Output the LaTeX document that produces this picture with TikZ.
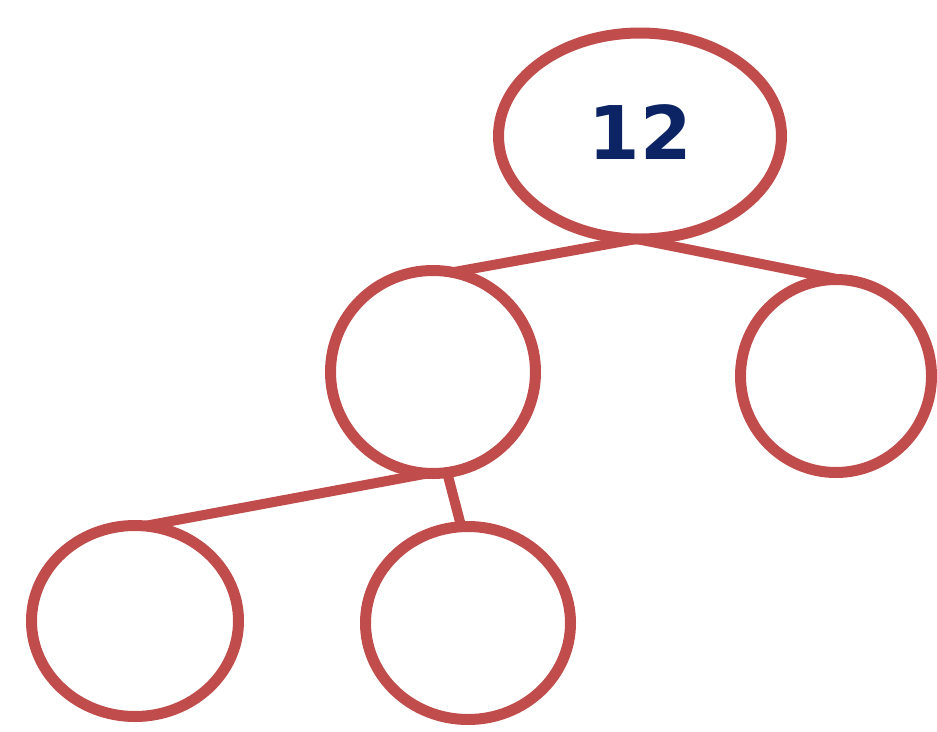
\documentclass[tikz,border=0pt]{standalone}
\usepackage{fontspec}
\newfontfamily\numfont{DejaVu Sans}
\usetikzlibrary{shapes.geometric}
\definecolor{ringred}{RGB}{192,76,76}
\definecolor{navy}{RGB}{12,35,100}
\tikzset{
  ring/.style={draw=ringred, line width=11pt, ellipse, inner sep=0pt, outer sep=0pt},
  link/.style={draw=ringred, line width=10pt, line cap=round},
  linkshadow/.style={draw=black!10, line width=8pt, line cap=round},
}
\begin{document}
\begin{tikzpicture}[x=1pt,y=-1pt]
\useasboundingbox (0,0) rectangle (937,731);
\node[ring, minimum width=283pt, minimum height=206pt,
      font=\numfont\bfseries\fontsize{74}{80}\selectfont, text=navy] (top) at (640,136) {\raisebox{7pt}{12}};
\node[ring, minimum width=205pt, minimum height=203pt] (ml) at (433,372) {};
\node[ring, minimum width=191pt, minimum height=193pt] (mr) at (836,376) {};
\node[ring, minimum width=207pt, minimum height=191pt] (bl) at (135,621) {};
\node[ring, minimum width=205pt, minimum height=193pt] (bm) at (468,623) {};
% shadows
\begin{scope}[yshift=-10pt]
\draw[linkshadow] (top.-92) -- (ml.79);
\draw[linkshadow] (top.-92) -- (mr.88);
\draw[linkshadow] (ml.-93) -- (bl.84);
\end{scope}
% connectors
\draw[link] (top.-92) -- (ml.79);
\draw[link] (top.-92) -- (mr.88);
\draw[link] (ml.-93) -- (bl.84);
\draw[link] (ml.-82) -- (bm.94);
\end{tikzpicture}
\end{document}
